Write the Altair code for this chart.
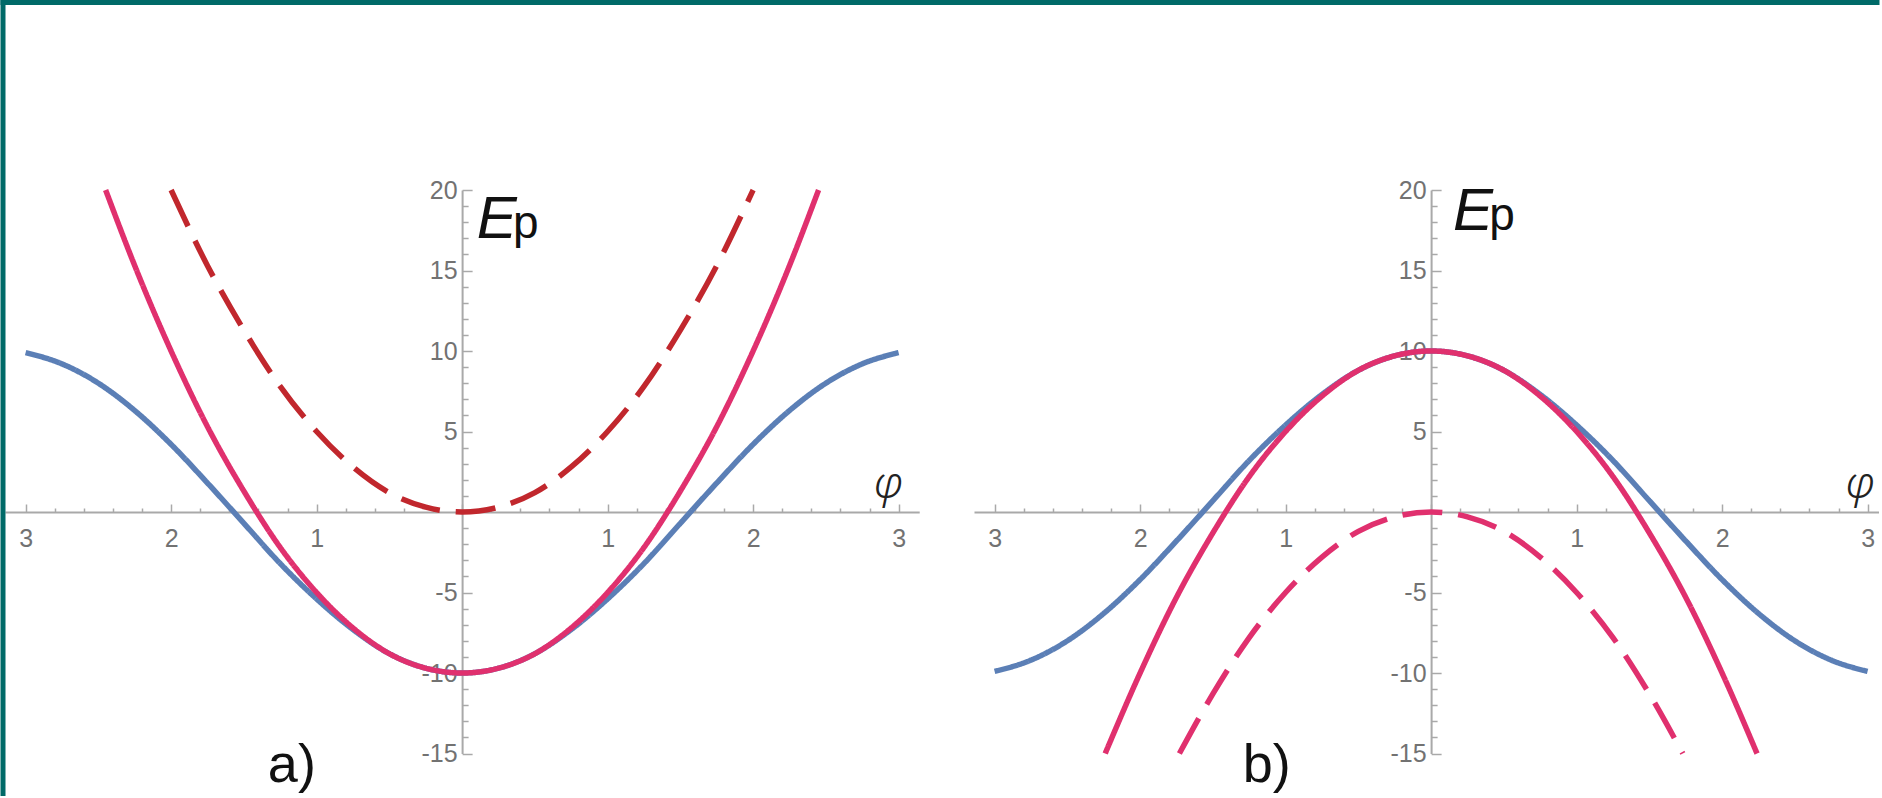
import math
import altair as alt
import pandas as pd

PI = math.pi

# ---------------- curve samples: E_p against the angle phi ----------------
# panel a)
phi_pend_a = [-3.0, -2.75, -2.5, -2.25, -2.0, -1.75, -1.5, -1.25, -1.0, -0.75, -0.5, -0.25,
              0.0, 0.25, 0.5, 0.75, 1.0, 1.25, 1.5, 1.75, 2.0, 2.25, 2.5, 2.75, 3.0]
ep_pend_a = [9.9, 9.2, 8.0, 6.3, 4.2, 1.8, -0.7, -3.2, -5.4, -7.3, -8.8, -9.7,
             -10.0, -9.7, -8.8, -7.3, -5.4, -3.2, -0.7, 1.8, 4.2, 6.3, 8.0, 9.2, 9.9]

phi_harm_a = [-2.45, -2.25, -2.0, -1.75, -1.5, -1.25, -1.0, -0.75, -0.5, -0.25,
              0.0, 0.25, 0.5, 0.75, 1.0, 1.25, 1.5, 1.75, 2.0, 2.25, 2.45]
ep_harm_a = [20.0, 15.3, 10.0, 5.3, 1.3, -2.2, -5.0, -7.2, -8.8, -9.7,
             -10.0, -9.7, -8.8, -7.2, -5.0, -2.2, 1.3, 5.3, 10.0, 15.3, 20.0]

phi_shift_a = [-2.0, -1.75, -1.5, -1.25, -1.0, -0.75, -0.5, -0.25,
               0.0, 0.25, 0.5, 0.75, 1.0, 1.25, 1.5, 1.75, 2.0]
ep_shift_a = [20.0, 15.3, 11.3, 7.8, 5.0, 2.8, 1.2, 0.3,
              0.0, 0.3, 1.2, 2.8, 5.0, 7.8, 11.3, 15.3, 20.0]

# panel b)
phi_pend_b = [-3.0, -2.75, -2.5, -2.25, -2.0, -1.75, -1.5, -1.25, -1.0, -0.75, -0.5, -0.25,
              0.0, 0.25, 0.5, 0.75, 1.0, 1.25, 1.5, 1.75, 2.0, 2.25, 2.5, 2.75, 3.0]
ep_pend_b = [-9.9, -9.2, -8.0, -6.3, -4.2, -1.8, 0.7, 3.2, 5.4, 7.3, 8.8, 9.7,
             10.0, 9.7, 8.8, 7.3, 5.4, 3.2, 0.7, -1.8, -4.2, -6.3, -8.0, -9.2, -9.9]

phi_harm_b = [-2.24, -2.0, -1.75, -1.5, -1.25, -1.0, -0.75, -0.5, -0.25,
              0.0, 0.25, 0.5, 0.75, 1.0, 1.25, 1.5, 1.75, 2.0, 2.24]
ep_harm_b = [-15.0, -10.0, -5.3, -1.3, 2.2, 5.0, 7.2, 8.8, 9.7,
             10.0, 9.7, 8.8, 7.2, 5.0, 2.2, -1.3, -5.3, -10.0, -15.0]

phi_shift_b = [-1.73, -1.5, -1.25, -1.0, -0.75, -0.5, -0.25,
               0.0, 0.25, 0.5, 0.75, 1.0, 1.25, 1.5, 1.73]
ep_shift_b = [-15.0, -11.3, -7.8, -5.0, -2.8, -1.2, -0.3,
              0.0, -0.3, -1.2, -2.8, -5.0, -7.8, -11.3, -15.0]

# ---------------- axes: ticks and their labels ----------------
x_tick_values = [round(-3.0 + 0.2 * k, 1) for k in range(31)]
x_major_values = [-3, -2, -1, 0, 1, 2, 3]
x_label_values = [-3, -2, -1, 1, 2, 3]
x_label_texts = ["3", "2", "1", "1", "2", "3"]

y_tick_values = list(range(-15, 21))
y_major_values = [-15, -10, -5, 0, 5, 10, 15, 20]
y_label_values = [-15, -10, -5, 5, 10, 15, 20]
y_label_texts = ["-15", "-10", "-5", "5", "10", "15", "20"]

Y_MIN, Y_MAX = -15, 20

# ---------------- colours and geometry ----------------
BLUE = "#5B7FB6"
PINK = "#E0306E"
DARK_RED = "#C1272D"
TEAL = "#006A68"
AXIS_GREY = "#A9A9A9"
LABEL_GREY = "#727272"
TICK_FONT = "Liberation Sans"
TICK_SIZE = 25

PX_X = 145.5          # pixels per radian
PX_Y = 16.1           # pixels per energy unit
TOP = 190             # distance from the page top to E_p = 20
PAGE_W, PAGE_H = 1879, 796
HEIGHT = (Y_MAX - Y_MIN) * PX_Y
X_MAX_A = PI
X_MAX_B = 3.075
WIDTH_A = (X_MAX_A + PI) * PX_X
WIDTH_B = (X_MAX_B + PI) * PX_X
LEFT = 4.5            # distance from the page left to phi = -pi of panel a
GAP = 54


def js_list(values):
    return "[" + ",".join(repr(v) for v in values) + "]"


def js_str_list(values):
    return "[" + ",".join("'" + v + "'" for v in values) + "]"


def label_expr(values, texts):
    idx = f"indexof({js_list(values)}, datum.value)"
    return f"{idx} >= 0 ? {js_str_list(texts)}[{idx}] : ''"


def tick_size(majors, major_len, minor_len):
    return {
        "condition": {"test": f"indexof({js_list(majors)}, datum.value) >= 0", "value": major_len},
        "value": minor_len,
    }


def curves_frame(parts):
    frames = [pd.DataFrame({"phi": p, "ep": e, "curve": name}) for name, p, e in parts]
    return pd.concat(frames, ignore_index=True)


def make_panel(parts, colors, x_max, width, e_pos, p_pos, phi_pos, tag_pos, tag, with_frame=False):
    xs = alt.Scale(domain=[-PI, x_max], nice=False, zero=False)
    ys = alt.Scale(domain=[Y_MIN, Y_MAX], nice=False, zero=False)

    # horizontal axis crosses at E_p = 0, ticks pointing up, labels below
    x_axis = alt.Axis(
        orient="top",
        offset=-(Y_MAX * PX_Y),
        values=x_tick_values,
        labelExpr=label_expr(x_label_values, x_label_texts),
        tickSize=tick_size(x_major_values, 8, 4),
        labelPadding=-22,
        labelBaseline="top",
        labelFont=TICK_FONT,
        labelFontSize=TICK_SIZE,
        labelColor=LABEL_GREY,
        labelOverlap=False,
        labelFlush=False,
        grid=False,
        title=None,
    )
    # vertical axis crosses at phi = 0, ticks pointing right, labels left
    y_axis = alt.Axis(
        orient="right",
        offset=-(width - PI * PX_X),
        values=y_tick_values,
        labelExpr=label_expr(y_label_values, y_label_texts),
        tickSize=tick_size(y_major_values, 10, 6),
        labelPadding=-15,
        labelAlign="right",
        labelBaseline="middle",
        labelFont=TICK_FONT,
        labelFontSize=TICK_SIZE,
        labelColor=LABEL_GREY,
        labelOverlap=False,
        labelFlush=False,
        grid=False,
        title=None,
    )
    X = alt.X("phi:Q", scale=xs, axis=x_axis)
    Y = alt.Y("ep:Q", scale=ys, axis=y_axis)

    names = [p[0] for p in parts]
    lines = alt.Chart(curves_frame(parts)).mark_line(strokeWidth=5.5, interpolate="monotone").encode(
        x=X,
        y=Y,
        color=alt.Color("curve:N", scale=alt.Scale(domain=names, range=colors), legend=None),
        strokeDash=alt.StrokeDash(
            "curve:N",
            scale=alt.Scale(domain=names, range=[[1, 0], [1, 0], [40, 16]]),
            legend=None,
        ),
    )

    def text_layer(pos, text, **style):
        df = pd.DataFrame({"phi": [pos[0]], "ep": [pos[1]], "t": [text]})
        return alt.Chart(df).mark_text(**style).encode(x=X, y=Y, text="t:N")

    e_main = text_layer(e_pos, "E", font="Liberation Sans", fontSize=60,
                        fontStyle="italic", color="#111111", align="left", baseline="alphabetic")
    e_sub = text_layer(p_pos, "p", font="Liberation Sans", fontSize=46,
                       color="#111111", align="left", baseline="alphabetic")
    phi_lbl = text_layer(phi_pos, "φ", font="Noto Sans", fontSize=44, fontWeight=300,
                         fontStyle="italic", color="#222222", align="center", baseline="middle")
    tag_lbl = text_layer(tag_pos, tag, font="Liberation Sans", fontSize=54,
                         color="#111111", align="center", baseline="alphabetic")

    layers = [lines, e_main, e_sub, phi_lbl, tag_lbl]

    if with_frame:
        # teal page frame along the top and left edges
        frame_df = pd.DataFrame({"k": [0]})
        top_bar = alt.Chart(frame_df).mark_rect(color=TEAL).encode(
            x=alt.value(-LEFT), x2=alt.value(PAGE_W - LEFT),
            y=alt.value(-TOP), y2=alt.value(-TOP + 5),
        )
        left_bar = alt.Chart(frame_df).mark_rect(color=TEAL).encode(
            x=alt.value(-LEFT), x2=alt.value(-LEFT + 5),
            y=alt.value(-TOP), y2=alt.value(PAGE_H - TOP),
        )
        layers = [top_bar, left_bar] + layers

    return alt.layer(*layers).properties(width=width, height=HEIGHT)


def at_px(v_px):
    # energy value whose pixel row sits v_px below the page top
    return Y_MAX - (v_px - TOP) / PX_Y


panel_a = make_panel(
    [("pend", phi_pend_a, ep_pend_a), ("harm", phi_harm_a, ep_harm_a), ("shift", phi_shift_a, ep_shift_a)],
    [BLUE, PINK, DARK_RED], X_MAX_A, WIDTH_A,
    e_pos=(0.10, 17.0), p_pos=(0.35, 17.0), phi_pos=(2.93, 1.7),
    tag_pos=(-1.17, at_px(782)), tag="a)", with_frame=True,
)
panel_b = make_panel(
    [("pend", phi_pend_b, ep_pend_b), ("harm", phi_harm_b, ep_harm_b), ("shift", phi_shift_b, ep_shift_b)],
    [BLUE, PINK, PINK], X_MAX_B, WIDTH_B,
    e_pos=(0.15, 17.5), p_pos=(0.40, 17.5), phi_pos=(2.95, 1.7),
    tag_pos=(-1.13, at_px(782)), tag="b)",
)

chart = alt.hconcat(panel_a, panel_b, spacing=GAP, bounds="flush").resolve_scale(
    color="independent", strokeDash="independent"
).properties(
    padding=0, background="white"
).configure_view(stroke=None).configure_axis(
    domainColor=AXIS_GREY,
    domainWidth=2,
    tickColor=AXIS_GREY,
    tickWidth=1.5,
)

chart.save("out.html", embed_options={"renderer": "svg", "actions": False})
